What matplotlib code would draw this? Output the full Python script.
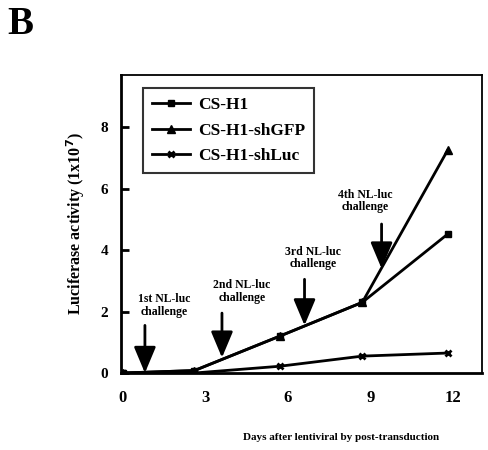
import matplotlib
matplotlib.use('Agg')
import matplotlib.pyplot as plt

# Datos
dias = [0, 2.6, 5.7, 8.7, 11.8]
cs_h1 = [0.0, 0.08, 1.2, 2.3, 4.52]
cs_h1_shgfp = [0.0, 0.08, 1.2, 2.3, 7.25]
cs_h1_shluc = [0.0, 0.0, 0.22, 0.55, 0.65]

# Flechas de los retos NL-luc
retos_x = [0.8, 3.6, 6.6, 9.4]
retos_cola = [1.55, 1.95, 3.05, 4.85]
retos_punta = [0.0, 0.5, 1.55, 3.4]
# Posicion de los textos de cada reto
texto_x = [1.5, 4.33, 6.9, 8.8]
texto_y = [2.2, 2.65, 3.75, 5.6]
retos_etiqueta = ['1st NL-luc\nchallenge', '2nd NL-luc\nchallenge',
                  '3rd NL-luc\nchallenge', '4th NL-luc\nchallenge']

x_ticks = [0, 3, 6, 9, 12]
y_ticks = [0, 2, 4, 6, 8]

plt.rcParams['font.family'] = ['Liberation Serif', 'DejaVu Serif']
plt.rcParams['font.weight'] = 'bold'

fig = plt.figure(figsize=(4.89, 4.5), dpi=100)
ax = fig.add_axes([0.2474, 0.1711, 0.7383, 0.6622])

ax.plot(dias, cs_h1, color='k', lw=2, marker='s', ms=5, label='CS-H1')
ax.plot(dias, cs_h1_shgfp, color='k', lw=2, marker='^', ms=6, label='CS-H1-shGFP')
ax.plot(dias, cs_h1_shluc, color='k', lw=2, marker='x', ms=5, mew=2, label='CS-H1-shLuc')

for x, y0, y1 in zip(retos_x, retos_cola, retos_punta):
    ax.annotate('', xy=(x, y1), xytext=(x, y0),
                arrowprops=dict(arrowstyle='-|>,head_length=1.0,head_width=0.42',
                                lw=2, color='k', mutation_scale=16, shrinkA=0, shrinkB=0))

for x, y, txt in zip(texto_x, texto_y, retos_etiqueta):
    ax.text(x, y, txt, ha='center', va='center', fontsize=8.5, fontweight='bold',
            linespacing=1.05)

ax.set_xlim(-0.07, 13.05)
ax.set_ylim(0, 9.7)
ax.set_xticks(x_ticks)
ax.set_yticks(y_ticks)
ax.tick_params(axis='x', length=0, pad=12, labelsize=12)
ax.tick_params(axis='y', direction='in', length=6, width=2, pad=9, labelsize=11)
for lab in ax.get_xticklabels() + ax.get_yticklabels():
    lab.set_fontweight('bold')

for s in ['left', 'bottom']:
    ax.spines[s].set_linewidth(2)
for s in ['top', 'right']:
    ax.spines[s].set_linewidth(1.3)

ax.set_ylabel('Luciferase activity (1x10$^7$)', fontsize=11.5, fontweight='bold', labelpad=10)

leg = ax.legend(loc='upper left', bbox_to_anchor=(0.061, 0.956), borderaxespad=0,
                fontsize=12.5, frameon=True, fancybox=False, handlelength=2.2,
                borderpad=0.5, labelspacing=0.55, handletextpad=0.5)
leg.get_frame().set_edgecolor('k')
leg.get_frame().set_linewidth(1.5)

fig.text(341 / 489, 1 - 437 / 450, 'Days after lentiviral by post-transduction',
         ha='center', va='center', fontsize=8, fontweight='bold')
fig.text(0.014, 0.945, 'B', fontsize=28, fontweight='bold', va='center')

fig.savefig('out.png', dpi=100)
